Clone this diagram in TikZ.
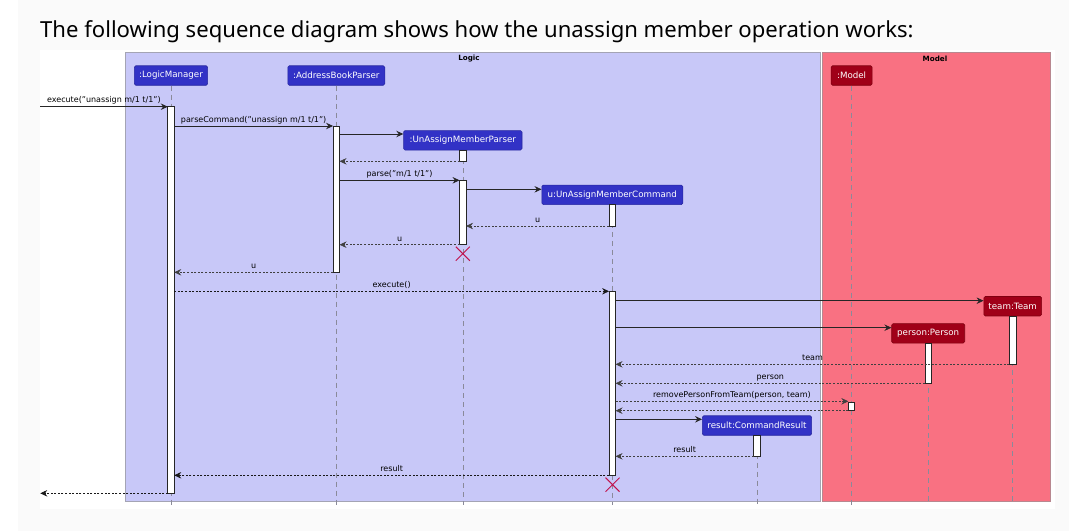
\documentclass[tikz,border=0pt]{standalone}
\usepackage{fontspec}
\setmainfont{DejaVu Sans}
\newfontfamily\titlefont{Noto Sans}
\usetikzlibrary{arrows.meta,shapes.misc}
\definecolor{pagebg}{HTML}{FAFAFA}
\definecolor{logicbg}{HTML}{C8C8F8}
\definecolor{logicedge}{HTML}{A4A4B4}
\definecolor{modelbg}{HTML}{F97182}
\definecolor{modeledge}{HTML}{B88890}
\definecolor{partblue}{HTML}{3232C6}
\definecolor{partblueedge}{HTML}{2828A0}
\definecolor{partred}{HTML}{A00018}
\definecolor{partrededge}{HTML}{800010}
\definecolor{lifegrey}{HTML}{8A8A9A}
\definecolor{killred}{HTML}{C0124C}
\newcommand\actbar[4]{\node[act, minimum height={#4-#3}] (#1) at (#2,{(#3+#4)/2}) {};}
\begin{document}
\begin{tikzpicture}[x=1pt,y=-1pt,
  part/.style={fill=partblue, draw=partblueedge, line width=0.6pt, rounded corners=1.5pt, text=white,
    font=\fontsize{8.7}{10}\selectfont, inner sep=0pt, minimum height=19.5pt},
  mpart/.style={part, fill=partred, draw=partrededge},
  grouplabel/.style={font=\bfseries\fontsize{7.2}{8}\selectfont, inner sep=0pt},
  lifeline/.style={draw=lifegrey, line width=0.6pt, dash pattern=on 5pt off 4pt},
  act/.style={draw=black!85, fill=white, line width=0.8pt, minimum width=6.5pt, inner sep=0pt, outer sep=0pt},
  tip/.style={-{Stealth[length=7pt,width=6.5pt,inset=2.4pt]}},
  call/.style={tip, draw=black!85, line width=0.8pt},
  ret/.style={tip, draw=black!75, line width=0.6pt, dash pattern=on 2pt off 1.6pt},
  lbl/.style={above, inner sep=1.6pt, font=\fontsize{8}{9}\selectfont, text height=6pt, text depth=1.8pt},
  kill/.style={draw=killred, cross out, minimum size=13pt, inner sep=0pt, line width=1pt}
]
\useasboundingbox (0,0) rectangle (1069,531);
\fill[white] (0,0) rectangle (1069,531);
\fill[pagebg] (18,0) rectangle (1069,531);
\fill[white] (40,50) rectangle (1055,509);
\node[anchor=base west, inner sep=0pt, font=\titlefont\fontsize{22.1}{26}\selectfont] (title) at (40,37.6)
  {The following sequence diagram shows how the unassign member operation works:};
% packages
\draw[logicedge, fill=logicbg, line width=0.8pt] (125,52) rectangle (820.5,501.3);
\draw[modeledge, fill=modelbg, line width=0.8pt] (822.3,52) rectangle (1050.7,501.3);
\node[grouplabel] (logicL) at (469,58.5) {Logic};
\node[grouplabel] (modelL) at (935,58.5) {Model};
% participants
\node[part, minimum width=73.3pt] (lm) at (171,75.5) {:LogicManager};
\node[part, minimum width=97pt] (abp) at (336.3,75.5) {:AddressBookParser};
\node[part, minimum width=118.4pt] (uamp) at (462.8,140.3) {:UnAssignMemberParser};
\node[part, minimum width=141pt] (uamc) at (612.3,194.8) {u:UnAssignMemberCommand};
\node[mpart, minimum width=41pt] (model) at (851.6,75.5) {:Model};
\node[mpart, minimum width=57.7pt] (team) at (1012.7,306.2) {team:Team};
\node[mpart, minimum width=73pt] (person) at (928.2,333.3) {person:Person};
\node[part, minimum width=109.3pt] (result) at (757,425.5) {result:CommandResult};
% lifelines
\foreach \p in {lm,abp,uamp,uamc,model,team,person,result}
  \draw[lifeline] (\p.south) -- (\p.south |- 0,505);
% activations
\actbar{lmA}{171}{106.7}{493.3}
\actbar{abpA}{336.3}{126}{272.3}
\actbar{uampA}{462.8}{150}{161.3}
\actbar{uampB}{462.8}{180.3}{244.7}
\actbar{uamcA}{612.3}{204.3}{226}
\actbar{uamcB}{612.3}{291.3}{475.3}
\actbar{teamA}{1012.7}{316}{364.3}
\actbar{personA}{928.2}{343}{383.3}
\actbar{modelA}{851.6}{402}{410.7}
\actbar{resultA}{757}{435.3}{456.3}
% destroy marks
\node[kill] (killP) at (462.8,253.7) {};
\node[kill] (killC) at (612.5,484.7) {};
% messages
\coordinate (inE) at (40,106.7);
\coordinate (outE) at (40.3,493.3);
\draw[call] (inE) -- node[lbl] {execute("unassign m/1 t/1")} (lmA.west |- inE);
\draw[call] (lmA.east |- 0,126) -- node[lbl] {parseCommand("unassign m/1 t/1")} (abpA.west |- 0,126);
\draw[call] (abpA.east |- 0,134) -- (uamp.west |- 0,134);
\draw[ret] (uampA.west |- 0,161.3) -- (abpA.east |- 0,161.3);
\draw[call] (abpA.east |- 0,180.3) -- node[lbl] {parse("m/1 t/1")} (uampB.west |- 0,180.3);
\draw[call] (uampB.east |- 0,189.3) -- (uamc.west |- 0,189.3);
\draw[ret] (uamcA.west |- 0,226) -- node[lbl] {u} (uampB.east |- 0,226);
\draw[ret] (uampB.west |- 0,244.7) -- node[lbl] {u} (abpA.east |- 0,244.7);
\draw[ret] (abpA.west |- 0,272.3) -- node[lbl] {u} (lmA.east |- 0,272.3);
\draw[ret, draw=black!90] (lmA.east |- 0,291.3) -- node[lbl] {execute()} (uamcB.west |- 0,291.3);
\draw[call] (uamcB.east |- 0,300.7) -- (team.west |- 0,300.7);
\draw[call] (uamcB.east |- 0,327.7) -- (person.west |- 0,327.7);
\draw[ret] (teamA.west |- 0,364.3) -- node[lbl] {team} (uamcB.east |- 0,364.3);
\draw[ret] (personA.west |- 0,383.3) -- node[lbl] {person} (uamcB.east |- 0,383.3);
\draw[ret] (uamcB.east |- 0,401.3) -- node[lbl] {removePersonFromTeam(person, team)} (modelA.west |- 0,401.3);
\draw[ret] (modelA.west |- 0,410.7) -- (uamcB.east |- 0,410.7);
\draw[call] (uamcB.east |- 0,419.3) -- (result.west |- 0,419.3);
\draw[ret] (resultA.west |- 0,456.3) -- node[lbl] {result} (uamcB.east |- 0,456.3);
\draw[ret, draw=black!90] (uamcB.west |- 0,475.3) -- node[lbl] {result} (lmA.east |- 0,475.3);
\draw[ret, draw=black!90] (lmA.west |- outE) -- (outE);
\end{tikzpicture}
\end{document}
